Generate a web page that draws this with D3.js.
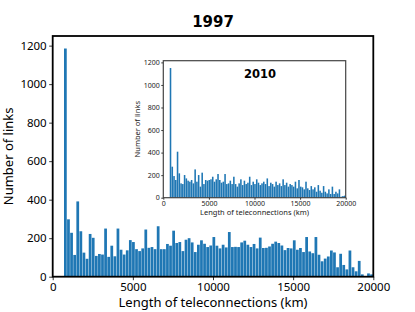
<!DOCTYPE html>
<html>
<head>
<meta charset="utf-8">
<script src="https://cdn.jsdelivr.net/npm/d3@7"></script>
<style>
  body { margin: 0; background: #fff; }
  text { font-family: "Noto Sans", "DejaVu Sans", sans-serif; }
</style>
</head>
<body>
<div id="chart"></div>
<script>
// histogram bins (km)
var binStart = 705;
var binEnd = 20000;
var binCount = 100;

// counts per bin, 1997 (main panel)
var counts1997 = [
  1185, 298, 228, 113, 391, 236, 125, 93, 222, 202,
  108, 118, 115, 250, 103, 161, 106, 250, 140, 115,
  137, 190, 180, 143, 133, 147, 245, 150, 154, 143,
  262, 143, 143, 170, 161, 239, 175, 180, 133, 192,
  200, 178, 128, 166, 189, 171, 154, 162, 206, 161,
  147, 166, 152, 232, 154, 155, 154, 178, 187, 166,
  154, 170, 147, 203, 149, 150, 157, 171, 182, 175,
  162, 138, 149, 147, 189, 140, 149, 128, 206, 131,
  122, 206, 114, 80, 94, 105, 136, 126, 49, 119,
  61, 38, 136, 49, 28, 82, 12, 0, 17, 12
];

// counts per bin, 2010 (inset)
var counts2010 = [
  1150, 275, 192, 157, 408, 216, 127, 121, 201, 171,
  151, 142, 157, 127, 251, 142, 201, 98, 222, 121,
  157, 151, 157, 163, 186, 142, 163, 210, 157, 133,
  142, 210, 121, 127, 151, 121, 186, 121, 98, 127,
  163, 112, 151, 121, 133, 186, 112, 142, 121, 163,
  133, 112, 127, 142, 121, 171, 103, 133, 121, 98,
  142, 112, 127, 103, 163, 112, 133, 98, 121, 112,
  98, 142, 83, 157, 98, 92, 74, 142, 83, 68,
  103, 74, 92, 53, 112, 62, 44, 103, 53, 38,
  74, 33, 98, 33, 53, 38, 74, 9, 15, 18
];

var xTicks = [0, 5000, 10000, 15000, 20000];
var yTicks = [0, 200, 400, 600, 800, 1000, 1200];

var width = 415, height = 312;
var binW = (binEnd - binStart) / binCount;

function makeBins(counts) {
    return counts.map(function(c, i) {
        return { x0: binStart + i * binW, x1: binStart + (i + 1) * binW, n: c };
    });
}

var svg = d3.select("#chart").append("svg")
    .attr("width", width).attr("height", height);

// draw one histogram panel
function panel(g, bins, box, ymax, opt) {
    var x = d3.scaleLinear().domain([0, 20000]).range([box.left, box.right]);
    var y = d3.scaleLinear().domain([0, ymax]).range([box.bottom, box.top]);

    g.append("rect")
        .attr("x", box.left).attr("y", box.top)
        .attr("width", box.right - box.left).attr("height", box.bottom - box.top)
        .attr("fill", "#fff");

    g.append("g").selectAll("rect")
        .data(bins).enter()
        .append("rect")
        .attr("x", d => x(d.x0))
        .attr("width", d => Math.max(0, x(d.x1) - x(d.x0) - opt.gap))
        .attr("y", d => y(d.n))
        .attr("height", d => y(0) - y(d.n))
        .attr("fill", "#1f77b4");

    var xAxis = g.append("g")
        .attr("transform", "translate(0," + box.bottom + ")")
        .call(d3.axisBottom(x).tickValues(xTicks).tickFormat(d3.format("d"))
            .tickSize(opt.tick).tickPadding(opt.pad));
    var yAxis = g.append("g")
        .attr("transform", "translate(" + box.left + ",0)")
        .call(d3.axisLeft(y).tickValues(yTicks).tickFormat(d3.format("d"))
            .tickSize(opt.tick).tickPadding(opt.pad));

    [xAxis, yAxis].forEach(function(a) {
        a.select(".domain").remove();
        a.selectAll("line").attr("stroke", "#000").attr("stroke-width", 0.8);
        a.selectAll("text").style("font-size", opt.font + "px")
            .style("font-family", "'Noto Sans', sans-serif").style("fill", opt.tickColor);
    });

    // frame
    g.append("rect")
        .attr("x", box.left).attr("y", box.top)
        .attr("width", box.right - box.left).attr("height", box.bottom - box.top)
        .attr("fill", "none").attr("stroke", opt.frame).attr("stroke-width", opt.frameW);

    g.append("text")
        .attr("x", (box.left + box.right) / 2).attr("y", opt.xlabY)
        .attr("text-anchor", "middle")
        .style("font-size", opt.labFont + "px").style("fill", opt.tickColor)
        .text("Length of teleconnections (km)");

    g.append("text")
        .attr("transform", "translate(" + opt.ylabX + "," + ((box.top + box.bottom) / 2) + ") rotate(-90)")
        .attr("text-anchor", "middle")
        .style("font-size", opt.labFont + "px").style("fill", opt.tickColor)
        .text("Number of links");
}

// main panel
var main = svg.append("g");
panel(main, makeBins(counts1997),
    { left: 52.7, right: 373.3, top: 36, bottom: 276.7 }, 1250,
    { gap: 0.35, tick: 3.5, pad: 2.5, font: 11.5, tickColor: "#000", frame: "#000", frameW: 1.8,
      labFont: 13, xlabY: 307, ylabX: 13 });

main.append("text")
    .attr("x", 213).attr("y", 27)
    .attr("text-anchor", "middle")
    .style("font-size", "15px").style("font-weight", "bold")
    .style("font-family", "'DejaVu Sans', sans-serif")
    .text("1997");

// inset panel
var inset = svg.append("g");
panel(inset, makeBins(counts2010),
    { left: 163.3, right: 345.7, top: 60.7, bottom: 197.7 }, 1215,
    { gap: 0.2, tick: 2, pad: 1.5, font: 7, tickColor: "#222", frame: "#444", frameW: 1.2,
      labFont: 7.5, xlabY: 215, ylabX: 140 });

inset.append("text")
    .attr("x", 260).attr("y", 78)
    .attr("text-anchor", "middle")
    .style("font-size", "11.5px").style("font-weight", "bold")
    .style("font-family", "'DejaVu Sans', sans-serif")
    .text("2010");
</script>
</body>
</html>
